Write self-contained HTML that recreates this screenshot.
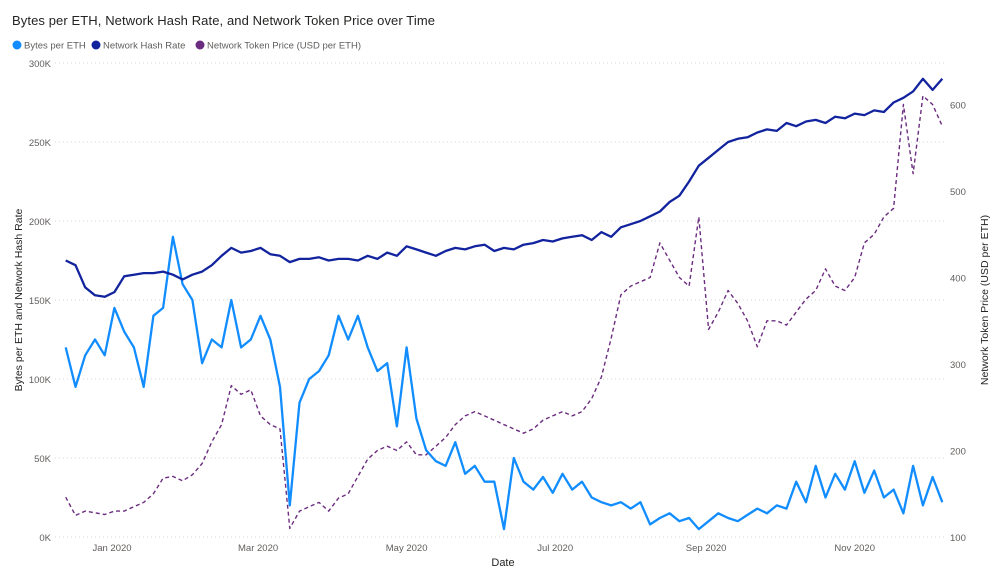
<!DOCTYPE html>
<html><head><meta charset="utf-8"><style>
body{margin:0;background:#fff;font-family:"Liberation Sans",sans-serif}
svg text{font-family:"Liberation Sans",sans-serif}
</style></head><body>
<svg id="chart" width="1000" height="581" xmlns="http://www.w3.org/2000/svg">
<text x="12" y="25" font-size="13" fill="#252423" textLength="423">Bytes per ETH, Network Hash Rate, and Network Token Price over Time</text>
<g font-size="9.5" fill="#605e5c">
<circle cx="17" cy="45" r="4.5" fill="#118DFF"/><text x="24" y="48.5">Bytes per ETH</text>
<circle cx="96" cy="45" r="4.5" fill="#12239E"/><text x="103" y="48.5">Network Hash Rate</text>
<circle cx="200" cy="45" r="4.5" fill="#6B2C7F"/><text x="207" y="48.5">Network Token Price (USD per ETH)</text>
</g>
<g id="grid"></g><g id="ticks" font-size="9.5" fill="#605e5c"></g>
<text transform="translate(22,300) rotate(-90)" text-anchor="middle" font-size="10.5" fill="#252423">Bytes per ETH and Network Hash Rate</text>
<text transform="translate(988,300) rotate(-90)" text-anchor="middle" font-size="10.5" fill="#252423">Network Token Price (USD per ETH)</text>
<text x="503" y="566" text-anchor="middle" font-size="11" fill="#252423">Date</text>
<g id="series"></g>
</svg>
<script>
const startDay=-19, stepDays=4;
const xTickLabels=["Jan 2020","Mar 2020","May 2020","Jul 2020","Sep 2020","Nov 2020"];
const xTickDays=[0,60,121,182,244,305];
const leftTicks=[0,50,100,150,200,250,300];
const rightTicks=[100,200,300,400,500,600];
const hashRate=[175,172,158,153,152,155,165,166,167,167,168,166,163,166,168,172,178,183,180,181,183,179,178,174,176,176,177,175,176,176,175,178,176,180,178,184,182,180,178,181,183,182,184,185,181,183,182,185,186,188,187,189,190,191,188,193,190,196,198,200,203,206,212,216,225,235,240,245,250,252,253,256,258,257,262,260,263,264,262,266,265,268,267,270,269,275,278,282,290,283,290];
const bytesPerEth=[120,95,115,125,115,145,130,120,95,140,145,190,160,150,110,125,120,150,120,125,140,125,95,20,85,100,105,115,140,125,140,120,105,110,70,120,75,55,48,45,60,40,45,35,35,5,50,35,30,38,28,40,30,35,25,22,20,22,18,22,8,12,15,10,12,5,10,15,12,10,14,18,15,20,18,35,22,45,25,40,30,48,28,42,25,30,15,45,20,38,22];
const tokenPrice=[146,125,130,128,126,130,130,135,140,150,168,170,165,172,185,210,230,275,265,270,240,230,225,110,130,135,140,130,145,150,170,190,200,205,200,210,195,195,205,215,230,240,245,240,235,230,225,220,225,235,240,245,240,245,260,285,330,380,390,395,400,440,420,400,390,470,340,360,385,370,350,320,350,350,345,360,375,385,410,390,385,400,440,450,470,480,600,520,610,600,575];
const NS="http://www.w3.org/2000/svg";
const x=d=>112+d*2.435;
const yL=v=>537-v/300*474;
const yR=p=>537-(p-100)*0.865;
const grid=document.getElementById('grid'),ticks=document.getElementById('ticks'),ser=document.getElementById('series');
leftTicks.forEach(v=>{
 const l=document.createElementNS(NS,'line');
 
 
 l.setAttribute('x1',55);l.setAttribute('x2',945);l.setAttribute('y1',yL(v));l.setAttribute('y2',yL(v));
 l.setAttribute('stroke','#d6d6d6');l.setAttribute('stroke-dasharray','1,3');grid.appendChild(l);
 const t=document.createElementNS(NS,'text');
 
 
 t.setAttribute('x',51);t.setAttribute('y',yL(v)+4);t.setAttribute('text-anchor','end');
 t.textContent=v===0?'0K':v+'K';ticks.appendChild(t);
});
rightTicks.forEach(v=>{
 const t=document.createElementNS(NS,'text');
 
 
 t.setAttribute('x',950);t.setAttribute('y',yR(v)+4);t.textContent=v;ticks.appendChild(t);
});
xTickDays.forEach((d,i)=>{
 const t=document.createElementNS(NS,'text');
 
 
 t.setAttribute('x',x(d));t.setAttribute('y',551);t.setAttribute('text-anchor','middle');
 t.textContent=xTickLabels[i];ticks.appendChild(t);
});
function line(arr,yf,color,w,dash,name){
 const p=document.createElementNS(NS,'polyline');
 
 
 p.setAttribute('points',arr.map((v,i)=>x(startDay+i*stepDays).toFixed(1)+','+yf(v).toFixed(1)).join(' '));
 p.setAttribute('fill','none');p.setAttribute('stroke',color);p.setAttribute('stroke-width',w);
 p.setAttribute('stroke-linejoin','round');
 if(dash)p.setAttribute('stroke-dasharray',dash);
 ser.appendChild(p);
}
line(tokenPrice,yR,'#6B2C7F',1.4,'4,3','price-line');
line(bytesPerEth,yL,'#118DFF',2.3,null,'bytes-line');
line(hashRate,yL,'#12239E',2.3,null,'hash-rate-line');
</script>
</body></html>
